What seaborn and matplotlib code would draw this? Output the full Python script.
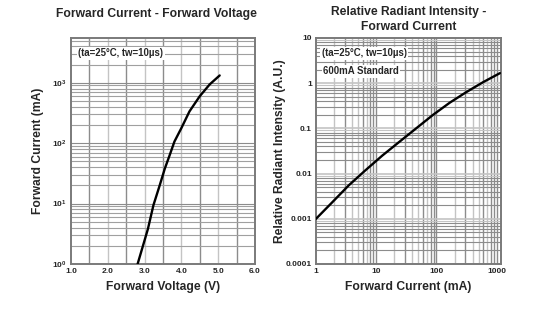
import numpy as np
import pandas as pd
import matplotlib
matplotlib.use("Agg")
import matplotlib.pyplot as plt
import seaborn as sns
from matplotlib.ticker import FixedLocator, NullLocator

# ---- data ----
fv_voltage = [2.81, 3.09, 3.24, 3.41, 3.55, 3.68, 3.81, 4.00, 4.22, 4.50, 4.77, 5.04]
fv_current = [1, 3.8, 9.4, 20, 38, 63, 106, 178, 336, 600, 940, 1320]

ri_current = [1, 1.85, 3.5, 6.6, 12.6, 24, 46, 88, 166, 316, 600, 1135]
ri_intensity = [0.001, 0.0023, 0.0055, 0.0118, 0.025, 0.05, 0.10, 0.20, 0.37, 0.64, 1.06, 1.67]

left_xticks = [1.0, 2.0, 3.0, 4.0, 5.0, 6.0]
left_xticklabels = ["1.0", "2.0", "3.0", "4.0", "5.0", "6.0"]
left_yticks = [1, 10, 100, 1000]
left_yticklabels = [r"$\mathbf{10^{0}}$", r"$\mathbf{10^{1}}$", r"$\mathbf{10^{2}}$", r"$\mathbf{10^{3}}$"]
right_xticks = [1, 10, 100, 1000]
right_xticklabels = ["1", "10", "100", "1000"]
right_yticks = [0.0001, 0.001, 0.01, 0.1, 1, 10]
right_yticklabels = ["0.0001", "0.001", "0.01", "0.1", "1", "10"]

sns.set_style("white")
plt.rcParams['font.family'] = ['Liberation Sans', 'DejaVu Sans']
plt.rcParams['mathtext.fontset'] = 'custom'
plt.rcParams['mathtext.bf'] = 'Liberation Sans:bold'
plt.rcParams['mathtext.rm'] = 'Liberation Sans'

fig = plt.figure(figsize=(5.54, 3.24), dpi=100)
ax1 = fig.add_axes([71/554, 1-264/324, 184/554, 226/324])
ax2 = fig.add_axes([316/554, 1-264/324, 185/554, 226/324])

DARK = "#8c8c8c"
LIGHT = "#c4c4c4"
TICK_FS = 6
LAB_FS = 8.7
NOTE_FS = 6.9

# ---- left chart ----
df1 = pd.DataFrame({"V": fv_voltage, "I": fv_current})
ax1.set_yscale("log")
ax1.set_xlim(1.0, 6.0)
ax1.set_ylim(1, 5500)
for v in np.arange(1.5, 6.0, 0.5):
    col = LIGHT if abs(v - round(v)) < 1e-9 else DARK
    ax1.axvline(v, color=col, lw=1.0, zorder=0)
for dec in [1, 10, 100, 1000]:
    for m in range(1, 10):
        y = dec * m
        if 1 < y < 5500:
            ax1.axhline(y, color=DARK if m == 1 else "#a0a0a0", lw=0.8, zorder=0)
sns.lineplot(data=df1, x="V", y="I", ax=ax1, color="black", lw=1.7, zorder=3)
ax1.set_xticks(left_xticks)
ax1.set_xticklabels(left_xticklabels, fontsize=TICK_FS, fontweight="bold")
ax1.yaxis.set_major_locator(FixedLocator(left_yticks))
ax1.yaxis.set_minor_locator(NullLocator())
ax1.set_yticklabels(left_yticklabels, fontsize=TICK_FS)
ax1.tick_params(length=0, pad=3)
ax1.set_xlabel("Forward Voltage (V)", fontsize=LAB_FS, fontweight="bold", labelpad=4)
ax1.set_ylabel("Forward Current (mA)", fontsize=LAB_FS, fontweight="bold")
ax1.yaxis.set_label_coords(-0.148, 0.5)
ax1.set_title("Forward Current - Forward Voltage", fontsize=LAB_FS, fontweight="bold",
              pad=15, x=0.466)
ax1.text(0.04, 0.955, "(ta=25°C, tw=10µs)", transform=ax1.transAxes, fontsize=NOTE_FS,
         fontweight="bold", va="top", ha="left", zorder=5,
         bbox=dict(facecolor="white", edgecolor="none", pad=1.0))

# ---- right chart ----
df2 = pd.DataFrame({"I": ri_current, "R": ri_intensity})
ax2.set_xscale("log")
ax2.set_yscale("log")
ax2.set_xlim(1, 1180)
ax2.set_ylim(0.0001, 10)
for dec in [1, 10, 100, 1000]:
    for m in range(1, 10):
        x = dec * m
        if 1 < x < 1180:
            col = DARK if m in (1, 3, 6, 8, 9) else LIGHT
            ax2.axvline(x, color=col, lw=1.0, zorder=0)
for dec in [0.0001, 0.001, 0.01, 0.1, 1]:
    for m in range(1, 10):
        y = dec * m
        if 0.0001 < y < 10:
            col = LIGHT if m in (1, 9) else DARK
            ax2.axhline(y, color=col, lw=0.8 if m != 1 else 1.2, zorder=0)
sns.lineplot(data=df2, x="I", y="R", ax=ax2, color="black", lw=1.7, zorder=3)
ax2.xaxis.set_major_locator(FixedLocator(right_xticks))
ax2.xaxis.set_minor_locator(NullLocator())
ax2.set_xticklabels(right_xticklabels, fontsize=TICK_FS, fontweight="bold")
ax2.yaxis.set_major_locator(FixedLocator(right_yticks))
ax2.yaxis.set_minor_locator(NullLocator())
ax2.set_yticklabels(right_yticklabels, fontsize=TICK_FS, fontweight="bold")
ax2.tick_params(length=0, pad=3)
ax2.set_xlabel("Forward Current (mA)", fontsize=LAB_FS, fontweight="bold", labelpad=4)
ax2.set_ylabel("Relative Radiant Intensity (A.U.)", fontsize=LAB_FS, fontweight="bold")
ax2.yaxis.set_label_coords(-0.162, 0.5)
ax2.set_title("Relative Radiant Intensity -\nForward Current", fontsize=LAB_FS,
              fontweight="bold", pad=6, linespacing=1.25)
ax2.text(0.03, 0.955, "(ta=25°C, tw=10µs)", transform=ax2.transAxes, fontsize=NOTE_FS,
         fontweight="bold", va="top", ha="left", zorder=5,
         bbox=dict(facecolor="white", edgecolor="none", pad=1.0))
ax2.text(0.04, 0.875, "600mA Standard", transform=ax2.transAxes, fontsize=NOTE_FS,
         fontweight="bold", va="top", ha="left", zorder=5,
         bbox=dict(facecolor="white", edgecolor="none", pad=1.0))

for ax in (ax1, ax2):
    for s in ax.spines.values():
        s.set_color("#7a7a7a")
        s.set_linewidth(1.4)
        s.set_visible(True)

fig.savefig("out.png", dpi=100)
